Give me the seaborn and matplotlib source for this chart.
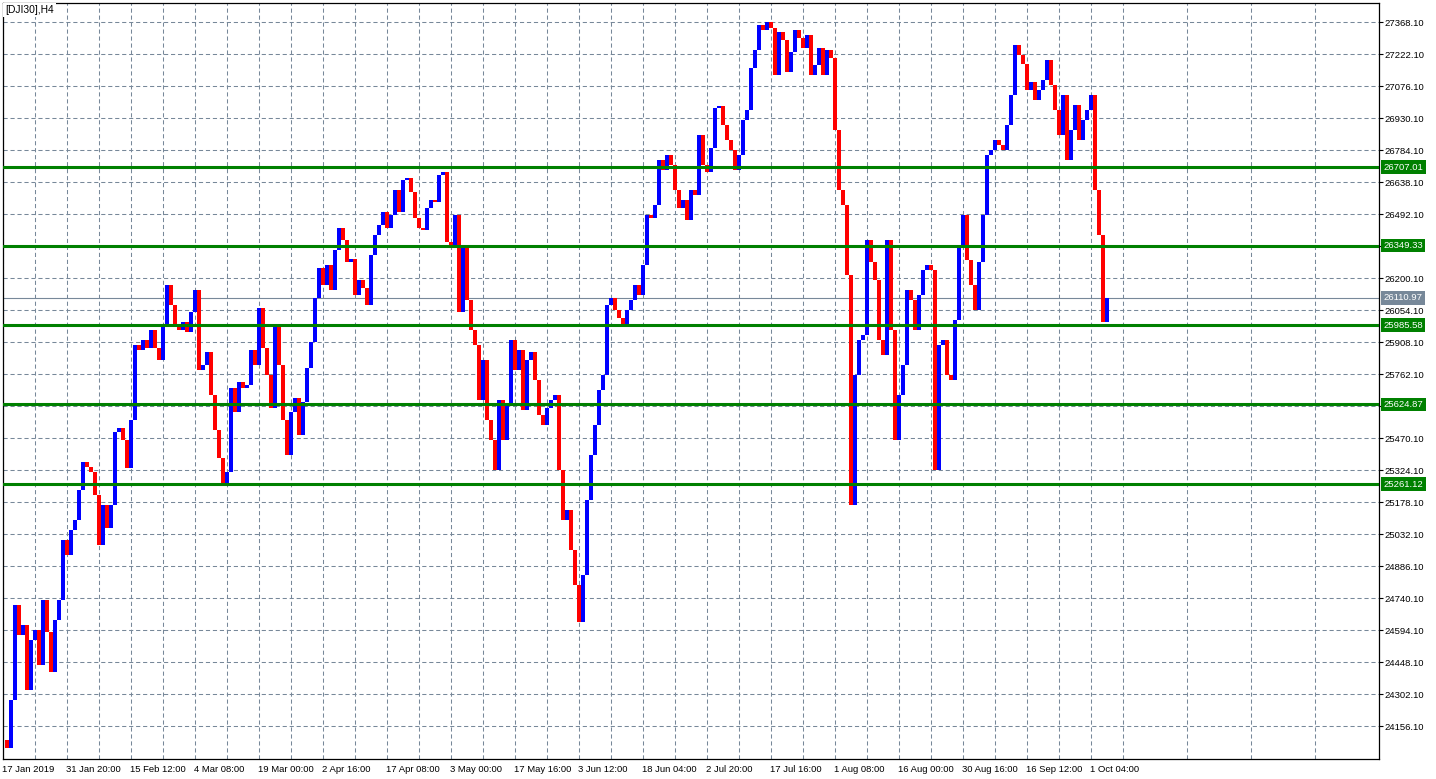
import numpy as np
import pandas as pd
import seaborn as sns
import matplotlib.pyplot as plt

symbol_title = "[DJI30],H4"

# closes, one value for every ~4 H4 bars
closes = [
    24094, 24057, 24276, 24710, 24573, 24618, 24322, 24550, 24595, 24436,
    24732, 24586, 24404, 24641, 24732, 25006, 24938, 25052, 25097, 25234,
    25362, 25340, 25316, 25211, 24983, 25166, 25061, 25166, 25499, 25517,
    25462, 25335, 25554, 25896, 25873, 25919, 25882, 25964, 25882, 25827,
    25987, 26170, 26078, 25987, 25964, 26001, 25955, 26046, 26147, 25782,
    25805, 25864, 25668, 25508, 25380, 25257, 25316, 25700, 25590, 25727,
    25700, 25713, 25873, 25805, 26065, 25882, 25759, 25608, 25987, 25805,
    25554, 25394, 25590, 25654, 25485, 25636, 25791, 25909, 26110, 26247,
    26170, 26261, 26147, 26329, 26430, 26375, 26274, 26290, 26124, 26192,
    26156, 26078, 26306, 26398, 26443, 26503, 26430, 26489, 26603, 26503,
    26649, 26658, 26594, 26475, 26430, 26420, 26521, 26557, 26548, 26671,
    26685, 26366, 26338, 26489, 26046, 26352, 26101, 25964, 25896, 25645,
    25827, 25554, 25462, 25325, 25645, 25462, 25622, 25919, 25782, 25873,
    25599, 25827, 25864, 25736, 25576, 25531, 25608, 25645, 25668, 25325,
    25097, 25143, 24960, 24801, 24632, 24846, 25189, 25394, 25531, 25690,
    25759, 26078, 26110, 26055, 26019, 25987, 26055, 26101, 26170, 26124,
    26261, 26489, 26475, 26534, 26740, 26694, 26763, 26717, 26603, 26521,
    26557, 26466, 26603, 26580, 26854, 26717, 26685, 26795, 26977, 26986,
    26900, 26831, 26785, 26694, 26763, 26922, 26968, 27160, 27242, 27356,
    27333, 27369, 27342, 27128, 27324, 27287, 27141, 27233, 27333, 27296,
    27251, 27310, 27128, 27173, 27251, 27128, 27242, 27205, 26877, 26603,
    26534, 26215, 25166, 25759, 25919, 25941, 26375, 26274, 26192, 25919,
    25850, 26375, 25964, 25462, 25668, 25805, 26147, 26101, 25964, 26124,
    26238, 26261, 26238, 25325, 25896, 25919, 25759, 25736, 26010, 26352,
    26489, 26284, 26170, 26055, 26274, 26489, 26763, 26785, 26831, 26808,
    26785, 26900, 27036, 27265, 27219, 27180, 27059, 27096, 27014, 27059,
    27105, 27196, 27082, 26968, 26854, 27036, 26740, 26877, 26991, 26831,
    26922, 26968, 27036, 26603, 26398, 26001, 26111,
]

time_labels = [
    "17 Jan 2019", "31 Jan 20:00", "15 Feb 12:00", "4 Mar 08:00", "19 Mar 00:00",
    "2 Apr 16:00", "17 Apr 08:00", "3 May 00:00", "17 May 16:00", "3 Jun 12:00",
    "18 Jun 04:00", "2 Jul 20:00", "17 Jul 16:00", "1 Aug 08:00", "16 Aug 00:00",
    "30 Aug 16:00", "16 Sep 12:00", "1 Oct 04:00",
]

price_ticks = [
    24156.10, 24302.10, 24448.10, 24594.10, 24740.10, 24886.10, 25032.10,
    25178.10, 25324.10, 25470.10, 25616.10, 25762.10, 25908.10, 26054.10,
    26200.10, 26346.10, 26492.10, 26638.10, 26784.10, 26930.10, 27076.10,
    27222.10, 27368.10,
]
# these two scale labels sit under the level boxes, so the terminal hides them
hidden_ticks = [25616.10, 26346.10]

level_prices = [26707.01, 26349.33, 25985.58, 25624.87, 25261.12]
last_price = 26110.97

UP = "#0000ff"
DOWN = "#ff0000"
LEVEL = "#008000"
GRID = "#778899"


def price_box(ax, price, color):
    ax.annotate(f"{price:.2f}", xy=(1, price), xycoords=("axes fraction", "data"),
                xytext=(5, 0), textcoords="offset pixels", ha="left",
                va="center", color="white", fontsize=6.8,
                bbox=dict(boxstyle="square,pad=0.25", fc=color, ec="none"),
                annotation_clip=False, zorder=6)


def main():
    sns.set_theme(style="white")
    plt.rcParams["font.family"] = ["Liberation Sans", "DejaVu Sans"]

    df = pd.DataFrame({"close": closes})
    df["open"] = df["close"].shift(1).fillna(df["close"])
    df["bar"] = np.arange(len(df))
    df["low"] = df[["open", "close"]].min(axis=1)
    df["high"] = df[["open", "close"]].max(axis=1)
    bar_colors = np.where(df["close"] >= df["open"], UP, DOWN)

    fig = plt.figure(figsize=(14.36, 7.79), dpi=100)
    ax = fig.add_axes([2.5 / 1436, 20.5 / 779, 1376 / 1436, 756 / 779])
    ax.set_facecolor("white")

    ax.vlines(df["bar"], df["low"], df["high"], colors=bar_colors,
              linewidth=1.45, antialiased=False, zorder=3)

    # support / resistance levels
    for p in level_prices:
        ax.axhline(p, color=LEVEL, linewidth=2.2, zorder=4)
    ax.axhline(last_price, color=GRID, linewidth=0.8, zorder=2)

    ax.set_xlim(0, 344)
    ax.set_ylim(24009.1, 27458.4)

    ax.set_xticks(np.arange(len(time_labels)) * 16)
    ax.set_xticklabels(time_labels, ha="left")
    ax.set_xticks(np.arange(8, 344, 16), minor=True)
    ax.set_yticks(price_ticks)
    ax.set_yticklabels(["" if t in hidden_ticks else f"{t:.2f}" for t in price_ticks])
    ax.yaxis.tick_right()

    ax.tick_params(axis="both", which="major", direction="out", length=3,
                   width=0.8, color="black", labelsize=6.8, labelcolor="black")
    ax.tick_params(axis="x", which="major", pad=1.5)
    ax.tick_params(axis="y", which="major", pad=1.5, left=False, right=True)
    ax.tick_params(axis="x", which="minor", length=0)

    ax.grid(True, which="both", color=GRID, linewidth=0.75,
            linestyle=(0, (4, 2.7)))
    ax.set_axisbelow(True)
    for s in ax.spines.values():
        s.set_color("black")
        s.set_linewidth(0.9)

    # price boxes on the right scale
    for p in level_prices:
        price_box(ax, p, LEVEL)
    price_box(ax, last_price, GRID)

    ax.text(0.002, 0.997, symbol_title, transform=ax.transAxes, ha="left",
            va="top", fontsize=7.4, color="black", zorder=6,
            bbox=dict(boxstyle="square,pad=0.2", fc="white", ec="none"))

    fig.savefig("out.png", dpi=100, facecolor="white")
    plt.close(fig)


if __name__ == "__main__":
    main()
